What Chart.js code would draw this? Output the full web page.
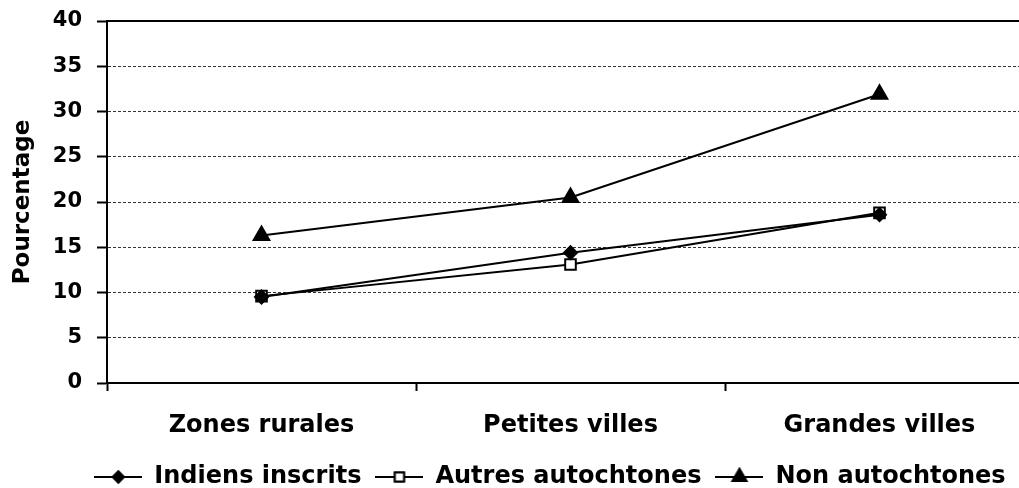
<!DOCTYPE html>
<html lang="fr">
<head>
    <meta charset="UTF-8">
    <title>Pourcentage par zone</title>
    <script src="https://cdn.jsdelivr.net/npm/chart.js"></script>
    <style>
        html, body {
            margin: 0;
            padding: 0;
            background: #ffffff;
            overflow: hidden;
        }
        #wrap {
            width: 1019px;
            height: 488px;
            overflow: hidden;
        }
    </style>
</head>
<body>
    <div id="wrap">
        <canvas id="chart" width="1100" height="488"></canvas>
    </div>

    <script>
        // data
        const categories = ['Zones rurales', 'Petites villes', 'Grandes villes'];
        const indiensInscrits = [9.5, 14.4, 18.6];
        const autresAutochtones = [9.6, 13.1, 18.8];
        const nonAutochtones = [16.3, 20.5, 31.9];
        const seriesNames = ['Indiens inscrits', 'Autres autochtones', 'Non autochtones'];

        const FONT = "'DejaVu Sans', sans-serif";

        // little line + marker icon for the legend
        function legendIcon(style, radius, fill) {
            const c = document.createElement('canvas');
            c.width = 48;
            c.height = 20;
            const g = c.getContext('2d');
            g.strokeStyle = '#000';
            g.lineWidth = 2;
            g.beginPath();
            g.moveTo(0, 10);
            g.lineTo(48, 10);
            g.stroke();
            g.fillStyle = fill;
            Chart.helpers.drawPoint(g, { pointStyle: style, radius: radius, borderWidth: 2, rotation: 0 }, 24, 10);
            g.fill();
            g.stroke();
            return c;
        }

        const marks = [
            { style: 'rectRot', radius: 6.5, fill: '#000' },
            { style: 'rect', radius: 7.5, fill: '#fff' },
            { style: 'triangle', radius: 9, fill: '#000' }
        ];
        const values = [indiensInscrits, autresAutochtones, nonAutochtones];

        const datasets = seriesNames.map((name, i) => ({
            label: name,
            data: values[i],
            borderColor: '#000',
            borderWidth: 2,
            tension: 0,
            pointStyle: marks[i].style,
            pointRadius: marks[i].radius,
            pointHoverRadius: marks[i].radius,
            pointBackgroundColor: marks[i].fill,
            pointBorderColor: '#000',
            pointBorderWidth: 2,
            xAxisID: 'x',
            yAxisID: 'y'
        }));

        new Chart(document.getElementById('chart'), {
            type: 'line',
            data: { labels: categories, datasets: datasets },
            options: {
                responsive: false,
                animation: false,
                // legend sits low, its bottom padding runs past the canvas
                layout: { padding: { top: 21, left: 0, right: 0, bottom: -11 } },
                plugins: {
                    tooltip: { enabled: false },
                    legend: {
                        position: 'bottom',
                        labels: {
                            color: '#000',
                            font: { family: FONT, size: 24, weight: 'bold' },
                            usePointStyle: true,
                            pointStyleWidth: 48,
                            padding: 14,
                            generateLabels: function (chart) {
                                return chart.data.datasets.map((ds, i) => ({
                                    text: ds.label,
                                    fillStyle: marks[i].fill,
                                    strokeStyle: '#000',
                                    lineWidth: 0,
                                    pointStyle: legendIcon(marks[i].style, marks[i].radius - 1, marks[i].fill),
                                    fontColor: '#000',
                                    hidden: false,
                                    datasetIndex: i
                                }));
                            }
                        }
                    }
                },
                scales: {
                    x: {
                        type: 'category',
                        position: 'bottom',
                        offset: true,
                        grid: {
                            display: true,
                            drawOnChartArea: false,
                            offset: true,
                            tickLength: 8,
                            tickColor: '#000',
                            tickWidth: 2
                        },
                        border: { display: true, color: '#000', width: 2 },
                        ticks: {
                            color: '#000',
                            padding: 20,
                            maxRotation: 0,
                            font: { family: FONT, size: 24, weight: 'bold' }
                        },
                        afterFit: function (s) { s.height = 68; }
                    },
                    top: {
                        type: 'category',
                        position: 'top',
                        offset: true,
                        grid: { display: false },
                        border: { display: true, color: '#000', width: 2 },
                        ticks: { display: false },
                        afterFit: function (s) { s.height = 0; }
                    },
                    y: {
                        position: 'left',
                        min: 0,
                        max: 40,
                        ticks: {
                            stepSize: 5,
                            color: '#000',
                            padding: 15,
                            font: { family: FONT, size: 21, weight: 'bold' }
                        },
                        grid: {
                            color: '#333',
                            lineWidth: 1,
                            tickLength: 10,
                            tickColor: '#000',
                            tickWidth: 2
                        },
                        border: { display: true, color: '#000', width: 2, dash: [3, 2] },
                        title: {
                            display: true,
                            text: 'Pourcentage',
                            color: '#000',
                            padding: { top: 9, bottom: 0 },
                            font: { family: FONT, size: 23, weight: 'bold' }
                        },
                        afterFit: function (s) {
                            s.width = 107;
                            s.paddingTop = 12;
                            s.paddingBottom = 12;
                        }
                    },
                    pad: {
                        type: 'linear',
                        position: 'right',
                        grid: { display: false },
                        border: { display: false },
                        ticks: { display: false },
                        afterFit: function (s) { s.width = 66; }
                    }
                }
            }
        });
    </script>
</body>
</html>
